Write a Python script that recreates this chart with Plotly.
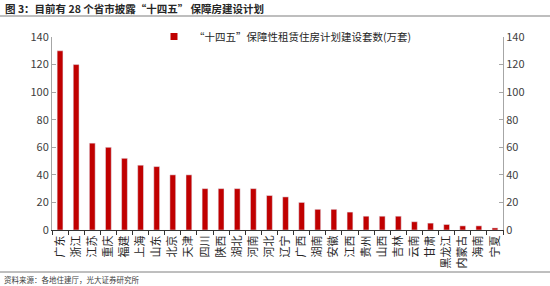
import plotly.graph_objects as go

provinces = ["广东", "浙江", "江苏", "重庆", "福建", "上海", "山东", "北京", "天津", "四川",
             "陕西", "湖北", "河南", "河北", "辽宁", "广西", "湖南", "安徽", "江西", "贵州",
             "山西", "吉林", "云南", "甘肃", "黑龙江", "内蒙古", "海南", "宁夏"]
units = [130, 120, 63, 60, 52, 47, 46, 40, 40, 30,
         30, 30, 30, 25, 24, 20, 15, 15, 13, 10,
         10, 10, 6, 5, 4, 3, 3, 1.5]
y_ticks = [0, 20, 40, 60, 80, 100, 120, 140]
series_name = "“十四五”保障性租赁住房计划建设套数(万套)"
title_text = "图 3：目前有 28 个省市披露“十四五” 保障房建设计划"
source_text = "资料来源：各地住建厅，光大证券研究所"

W, H = 550, 286
L, R, T, B = 52, 47, 37, 56
pw, ph = W - L - R, H - T - B

def px(x):
    return (x - L) / pw

def py(y):
    return (H - B - y) / ph

FONT = "Noto Sans CJK SC, Microsoft YaHei, sans-serif"
AX = "#A6A6A6"
RED = "#C00000"

fig = go.Figure()
fig.add_trace(go.Bar(x=provinces, y=units, name=series_name, showlegend=False,
                     marker=dict(color=RED, line=dict(width=0)),
                     width=0.36))
# legend entry with a small square marker
fig.add_trace(go.Scatter(x=[None], y=[None], mode="markers", name=series_name,
                         marker=dict(symbol="square", size=7, color=RED)))
fig.add_trace(go.Bar(x=provinces, y=units, yaxis="y2", showlegend=False,
                     marker=dict(color="rgba(0,0,0,0)"), width=0.36, hoverinfo="skip"))

fig.update_layout(
    width=W, height=H,
    margin=dict(l=L, r=R, t=T, b=B),
    paper_bgcolor="white", plot_bgcolor="white",
    font=dict(family=FONT, size=11, color="#404040"),
    barmode="overlay",
    showlegend=True,
    legend=dict(x=px(154), y=py(22), xanchor="left", yanchor="top",
                bgcolor="rgba(0,0,0,0)", font=dict(size=10.5, color="#262626"),
                itemwidth=30, tracegroupgap=0),
    xaxis=dict(type="category", showline=True, linecolor="#333333", linewidth=1,
               ticks="outside", ticklen=4, tickcolor="#333333", tickson="boundaries",
               tickangle=-90, tickfont=dict(size=11, color="#262626"),
               showgrid=False, zeroline=False),
    yaxis=dict(range=[0, 140], tickvals=y_ticks, showline=True, linecolor=AX,
               ticks="inside", ticklen=4, tickcolor=AX, showgrid=False, zeroline=False,
               tickfont=dict(size=11, color="#404040")),
    yaxis2=dict(range=[0, 140], tickvals=y_ticks, overlaying="y", side="right",
                showline=True, linecolor=AX, ticks="inside", ticklen=4, tickcolor=AX,
                showgrid=False, zeroline=False, tickfont=dict(size=11, color="#404040")),
)

fig.add_annotation(text="<b>" + title_text + "</b>", x=px(3), y=py(9), xref="paper", yref="paper",
                   xanchor="left", yanchor="middle", showarrow=False,
                   font=dict(size=10.5, color="#262626", family=FONT))
fig.add_annotation(text=source_text, x=px(2), y=py(279), xref="paper", yref="paper",
                   xanchor="left", yanchor="middle", showarrow=False,
                   font=dict(size=7.5, color="#404040", family=FONT))
fig.add_shape(type="line", xref="paper", yref="paper", x0=px(0), x1=px(550),
              y0=py(16), y1=py(16), line=dict(color="#7F7F7F", width=1.2))
fig.add_shape(type="line", xref="paper", yref="paper", x0=px(0), x1=px(550),
              y0=py(272), y1=py(272), line=dict(color="#7F7F7F", width=1))

fig.write_html("out.html")
